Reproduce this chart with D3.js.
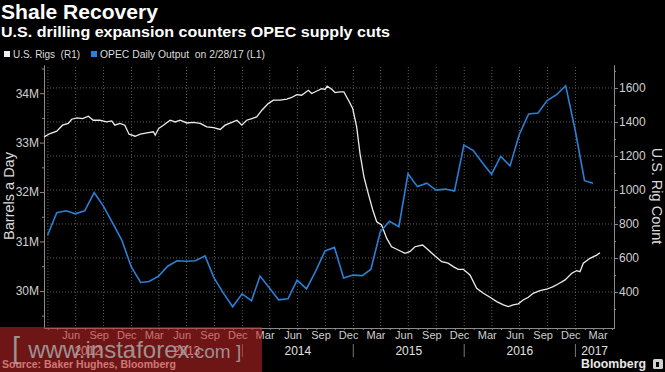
<!doctype html>
<html>
<head>
  <meta charset="utf-8">
  <script src="https://d3js.org/d3.v7.min.js"></script>
  <style>
    html, body {
      margin: 0;
      background: #000;
    }
    text {
      font-family: "Liberation Sans", Arial, sans-serif;
      white-space: pre;
    }
    .axis path, .axis line {
      stroke: #8a8a8a;
    }
    .axis text {
      fill: #cfcfcf;
      font-size: 12px;
    }
    .grid line {
      stroke: #5a5a5a;
      stroke-dasharray: 1,2;
    }
  </style>
</head>
<body>
<script>
  // OPEC daily output, monthly (Mar 2012 .. Feb 2017), million barrels a day
  var opecStart = "2012-03";
  var opecValues = [
    31.13, 31.58, 31.62, 31.56, 31.62, 31.99, 31.72, 31.37, 31.03, 30.49,
    30.17, 30.19, 30.30, 30.50, 30.61, 30.60, 30.61, 30.71, 30.26, 29.95,
    29.68, 29.94, 29.80, 30.30, 30.06, 29.82, 29.84, 30.22, 30.04, 30.41,
    30.81, 30.88, 30.26, 30.32, 30.31, 30.44, 31.20, 31.41, 31.30, 32.37,
    32.11, 32.18, 32.04, 32.06, 32.02, 32.95, 32.84, 32.60, 32.36, 32.72,
    32.53, 33.16, 33.58, 33.60, 33.85, 33.97, 34.15, 33.26, 32.23, 32.18
  ];

  // U.S. rig count
  var rigDates = [
    "2012-03-19", "2012-04-08", "2012-04-30", "2012-05-19", "2012-06-07", "2012-06-18",
    "2012-07-06", "2012-07-24", "2012-08-12", "2012-08-28", "2012-09-19", "2012-10-11",
    "2012-10-28", "2012-11-07", "2012-11-24", "2012-12-10", "2012-12-24", "2013-01-13",
    "2013-01-30", "2013-02-21", "2013-03-14", "2013-03-20", "2013-03-31", "2013-04-16",
    "2013-05-08", "2013-05-25", "2013-06-10", "2013-07-02", "2013-07-24", "2013-08-15",
    "2013-09-06", "2013-09-28", "2013-10-20", "2013-11-05", "2013-11-27", "2013-12-14",
    "2013-12-30", "2014-01-15", "2014-02-01", "2014-02-17", "2014-03-06", "2014-03-27",
    "2014-04-13", "2014-05-05", "2014-05-27", "2014-06-12", "2014-06-29", "2014-07-15",
    "2014-08-06", "2014-08-17", "2014-09-03", "2014-09-19", "2014-09-30", "2014-10-07",
    "2014-10-22", "2014-11-02", "2014-11-18", "2014-12-01", "2014-12-16", "2014-12-30",
    "2015-01-12", "2015-01-23", "2015-02-05", "2015-02-19", "2015-03-06", "2015-03-19",
    "2015-04-04", "2015-04-21", "2015-05-07", "2015-05-29", "2015-06-20", "2015-07-06",
    "2015-07-23", "2015-08-17", "2015-09-05", "2015-09-27", "2015-10-19", "2015-11-09",
    "2015-11-26", "2015-12-12", "2015-12-29", "2016-01-20", "2016-02-11", "2016-03-04",
    "2016-03-26", "2016-04-17", "2016-05-09", "2016-05-25", "2016-06-10", "2016-06-27",
    "2016-07-13", "2016-07-30", "2016-08-15", "2016-09-06", "2016-09-28", "2016-10-20",
    "2016-11-05", "2016-11-28", "2016-12-20", "2017-01-05", "2017-01-16", "2017-01-27",
    "2017-02-18", "2017-03-12", "2017-03-23"
  ];
  var rigValues = [
    1312, 1332, 1346, 1381, 1391, 1416,
    1424, 1420, 1434, 1410, 1410, 1400,
    1406, 1381, 1391, 1381, 1328, 1316,
    1328, 1336, 1342, 1322, 1361, 1381,
    1410, 1400, 1410, 1394, 1398, 1391,
    1371, 1367, 1356, 1381, 1397, 1410,
    1381, 1410, 1420, 1430, 1469, 1508,
    1528, 1528, 1534, 1544, 1561, 1557,
    1586, 1567, 1582, 1596, 1591, 1610,
    1592, 1573, 1577, 1577, 1528, 1479,
    1371, 1215, 1077, 980, 882, 813,
    794, 715, 666, 647, 627, 637,
    666, 676, 647, 611, 578, 569,
    549, 533, 533, 500, 422, 392,
    369, 343, 324, 314, 324, 330,
    353, 369, 392, 408, 416, 431,
    447, 471, 510, 525, 519, 569,
    598, 617, 631
  ];

  var leftTicks = [30, 31, 32, 33, 34];
  var rightTicks = [400, 600, 800, 1000, 1200, 1400, 1600];

  var width = 665, height = 372;
  var plotLeft = 44, plotRight = 614, plotTop = 65, plotBottom = 328;

  var parseDay = d3.timeParse("%Y-%m-%d");
  var parseMonth = d3.timeParse("%Y-%m");

  var opec = opecValues.map(function (v, i) {
    // monthly points sit on the last day of the month
    var d = d3.timeDay.offset(d3.timeMonth.offset(parseMonth(opecStart), i + 1), -1);
    return { date: d, value: v };
  });
  var rigs = rigDates.map(function (d, i) {
    return { date: parseDay(d), value: rigValues[i] };
  });

  var svg = d3.select("body").append("svg")
    .attr("width", width)
    .attr("height", height);

  var x = d3.scaleTime()
    .domain([parseDay("2012-03-19"), parseDay("2017-05-08")])
    .range([plotLeft, plotRight]);
  var yL = d3.scaleLinear().domain([29.25, 34.57]).range([plotBottom, plotTop]);
  var yR = d3.scaleLinear().domain([188, 1735]).range([plotBottom, plotTop]);

  // titles
  svg.append("text")
    .attr("x", 1).attr("y", 19)
    .attr("textLength", 157).attr("lengthAdjust", "spacingAndGlyphs")
    .style("font-size", "20px").style("font-weight", "bold").style("fill", "#fff")
    .text("Shale Recovery");
  svg.append("text")
    .attr("x", 1).attr("y", 37)
    .attr("textLength", 389).attr("lengthAdjust", "spacingAndGlyphs")
    .style("font-size", "14px").style("font-weight", "bold").style("fill", "#fff")
    .text("U.S. drilling expansion counters OPEC supply cuts");

  // legend
  var legend = [
    { x: 4, color: "#f0f0f0", label: "U.S. Rigs  (R1)", w: 67 },
    { x: 91, color: "#2a7fd6", label: "OPEC Daily Output  on 2/28/17 (L1)", w: 165 }
  ];
  var lg = svg.selectAll(".legend").data(legend).enter().append("g")
    .attr("transform", function (d) { return "translate(" + d.x + ",51)"; });
  lg.append("rect").attr("width", 6).attr("height", 6).style("fill", function (d) { return d.color; });
  lg.append("text")
    .attr("x", 9).attr("y", 7)
    .attr("textLength", function (d) { return d.w; }).attr("lengthAdjust", "spacingAndGlyphs")
    .style("font-size", "11px").style("fill", "#dcdcdc")
    .text(function (d) { return d.label; });

  // grid
  var grid = svg.append("g").classed("grid", true);
  grid.selectAll(".h").data(rightTicks).enter().append("line")
    .attr("x1", plotLeft).attr("x2", plotRight)
    .attr("y1", yR).attr("y2", yR);
  var quarters = d3.timeMonth.range(parseDay("2012-04-01"), parseDay("2017-02-01"))
    .filter(function (d) { return d.getMonth() % 3 === 0; });
  grid.selectAll(".v").data(quarters).enter().append("line")
    .attr("x1", x).attr("x2", x)
    .attr("y1", plotTop + 2).attr("y2", plotBottom);

  // left axis
  svg.append("g").classed("axis", true)
    .attr("transform", "translate(" + plotLeft + ",0)")
    .call(d3.axisLeft(yL).tickValues(leftTicks).tickSize(4).tickSizeOuter(0).tickPadding(1)
      .tickFormat(function (d) { return d + "M"; }));
  svg.append("g").classed("axis", true)
    .attr("transform", "translate(" + plotLeft + ",0)")
    .call(d3.axisLeft(yL).tickValues(d3.range(29.5, 34.6, 1)).tickSize(2).tickSizeOuter(0).tickFormat(""));

  // right axis
  svg.append("g").classed("axis", true)
    .attr("transform", "translate(" + plotRight + ",0)")
    .call(d3.axisRight(yR).tickValues(rightTicks).tickSize(4).tickSizeOuter(0).tickPadding(1)
      .tickFormat(d3.format("d")));
  svg.append("g").classed("axis", true)
    .attr("transform", "translate(" + plotRight + ",0)")
    .call(d3.axisRight(yR).tickValues(d3.range(300, 1701, 200)).tickSize(2).tickSizeOuter(0).tickFormat(""));

  // bottom axis: month ticks, quarter labels mid-month
  var months = d3.timeMonth.range(parseDay("2012-04-01"), parseDay("2017-05-02"));
  svg.append("g").classed("axis", true)
    .attr("transform", "translate(0," + plotBottom + ")")
    .call(d3.axisBottom(x).tickValues(months).tickSize(2).tickSizeOuter(0).tickFormat(""));
  var labelMonths = d3.timeMonth.range(parseDay("2012-06-01"), parseDay("2017-04-01"))
    .filter(function (d) { return d.getMonth() % 3 === 2; })
    .map(function (d) { return d3.timeDay.offset(d, 14); });
  var xa = svg.append("g").classed("axis", true)
    .attr("transform", "translate(0," + plotBottom + ")")
    .call(d3.axisBottom(x).tickValues(labelMonths).tickSize(0).tickPadding(3)
      .tickFormat(d3.timeFormat("%b")));
  xa.select(".domain").remove();
  xa.selectAll("text").style("font-size", "11px");

  // years
  var years = d3.range(2012, 2018);
  svg.selectAll(".year").data(years).enter().append("text")
    .attr("x", function (yr) {
      var a = Math.max(x(new Date(yr, 0, 1)), plotLeft);
      var b = Math.min(x(new Date(yr + 1, 0, 1)), plotRight);
      return (a + b) / 2;
    })
    .attr("y", 355)
    .attr("text-anchor", "middle")
    .style("font-size", "12px").style("fill", "#e0e0e0")
    .text(function (yr) { return yr; });
  svg.selectAll(".ysep").data(years.slice(1)).enter().append("line")
    .attr("x1", function (yr) { return x(new Date(yr, 0, 1)); })
    .attr("x2", function (yr) { return x(new Date(yr, 0, 1)); })
    .attr("y1", 344).attr("y2", 357)
    .style("stroke", "#777");

  // axis titles
  svg.append("text")
    .attr("transform", "translate(14,196) rotate(-90)")
    .attr("text-anchor", "middle")
    .style("font-size", "14.5px").style("fill", "#dcdcdc")
    .text("Barrels a Day");
  svg.append("text")
    .attr("transform", "translate(652,196) rotate(90)")
    .attr("text-anchor", "middle")
    .style("font-size", "14.5px").style("fill", "#dcdcdc")
    .text("U.S. Rig Count");

  // series
  svg.append("path").datum(rigs)
    .attr("d", d3.line().x(function (d) { return x(d.date); }).y(function (d) { return yR(d.value); }))
    .style("fill", "none").style("stroke", "#ececec").style("stroke-width", 1.3);
  svg.append("path").datum(opec)
    .attr("d", d3.line().x(function (d) { return x(d.date); }).y(function (d) { return yL(d.value); }))
    .style("fill", "none").style("stroke", "#2a7fd6").style("stroke-width", 1.6);

  // footer
  svg.append("text")
    .attr("x", 2).attr("y", 368)
    .style("font-size", "10.5px").style("font-weight", "bold").style("fill", "#d8d8d8")
    .text("Source: Baker Hughes, Bloomberg");
  svg.append("text")
    .attr("x", 581).attr("y", 368)
    .attr("textLength", 65).attr("lengthAdjust", "spacingAndGlyphs")
    .style("font-size", "13px").style("font-weight", "bold").style("fill", "#e8e8e8")
    .text("Bloomberg");
  svg.append("rect")
    .attr("x", 653).attr("y", 359).attr("width", 10).attr("height", 10)
    .attr("rx", 1.5).style("fill", "#d0d0d0");
  svg.append("rect")
    .attr("x", 656).attr("y", 362).attr("width", 3).attr("height", 5)
    .style("fill", "#000");

  // watermark overlay
  svg.append("rect")
    .attr("x", 0).attr("y", 327).attr("width", 262).attr("height", 45)
    .style("fill", "rgb(200,40,40)").style("opacity", 0.55);
  var wm = svg.append("text")
    .attr("x", 12).attr("y", 358)
    .style("fill", "#a8a8a8").style("fill-opacity", 0.85);
  wm.append("tspan").style("font-size", "29px").text("[ ");
  wm.append("tspan").style("font-size", "24px").text("www.instaforex");
  wm.append("tspan").style("font-size", "19px").text(".com ]");
</script>
</body>
</html>
